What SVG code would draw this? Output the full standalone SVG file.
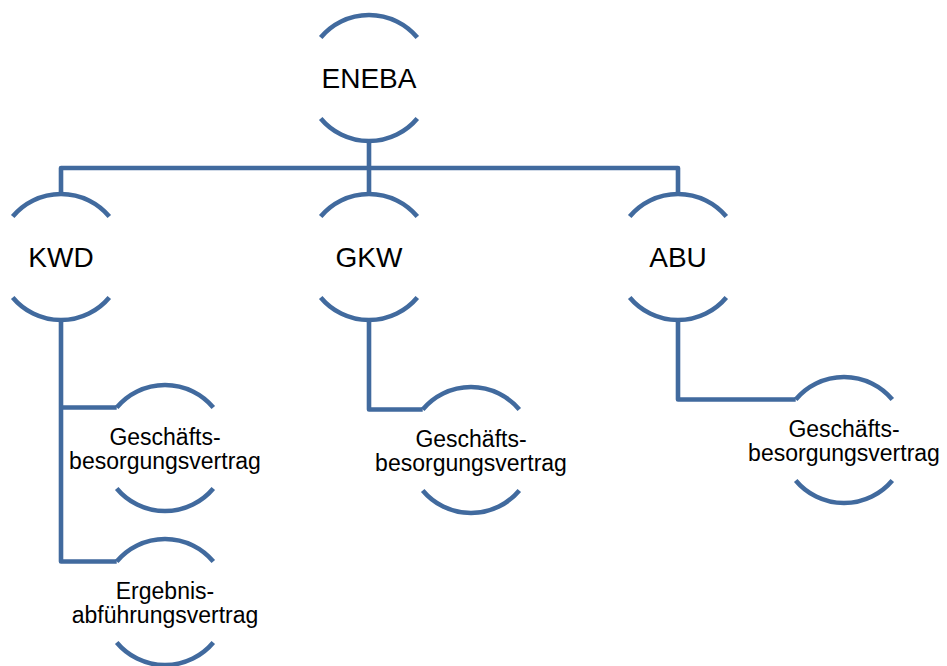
<svg xmlns="http://www.w3.org/2000/svg" xmlns:xlink="http://www.w3.org/1999/xlink" width="947" height="666" viewBox="0 0 947 666">
<style>
.arc{fill:none;stroke:#416A9E;stroke-width:4.6;stroke-linecap:butt}
.con{fill:none;stroke:#416A9E;stroke-width:4.6;stroke-linejoin:round}
.t1{font-family:"Liberation Sans",Arial,sans-serif;font-size:28px;fill:#000;text-anchor:middle}
.t2{font-family:"Liberation Sans",Arial,sans-serif;font-size:23px;fill:#000;text-anchor:middle}
</style>
<defs>
<path id="arcs" class="arc" d="M-48.3,-40.5 A63,63 0 0 1 48.3,-40.5 M-48.3,40.5 A63,63 0 0 0 48.3,40.5"/>
</defs>
<rect width="947" height="666" fill="#fff"/>
<g id="connectors">
<path class="con" d="M369,141 V194 M61,194 V168 H678 V194"/>
<path class="con" d="M61,320 V561.5 H116.7 M61,407.5 H116.7"/>
<path class="con" d="M369,320 V409.5 H422.7"/>
<path class="con" d="M678,320 V399.5 H795.7"/>
</g>
<g id="eneba"><use xlink:href="#arcs" x="369" y="78"/><text class="t1" x="369" y="88">ENEBA</text></g>
<g id="kwd"><use xlink:href="#arcs" x="61" y="257"/><text class="t1" x="61" y="267">KWD</text></g>
<g id="gkw"><use xlink:href="#arcs" x="369" y="257"/><text class="t1" x="369" y="267">GKW</text></g>
<g id="abu"><use xlink:href="#arcs" x="678" y="257"/><text class="t1" x="678" y="267">ABU</text></g>
<g id="kwd-gbv"><use xlink:href="#arcs" x="165" y="448"/><text class="t2" x="165" y="444.5">Geschäfts-<tspan x="165" dy="24">besorgungsvertrag</tspan></text></g>
<g id="kwd-eav"><use xlink:href="#arcs" x="165" y="602"/><text class="t2" x="165" y="598.5">Ergebnis-<tspan x="165" dy="24">abführungsvertrag</tspan></text></g>
<g id="gkw-gbv"><use xlink:href="#arcs" x="471" y="450"/><text class="t2" x="471" y="446.5">Geschäfts-<tspan x="471" dy="24">besorgungsvertrag</tspan></text></g>
<g id="abu-gbv"><use xlink:href="#arcs" x="844" y="440"/><text class="t2" x="844" y="436.5">Geschäfts-<tspan x="844" dy="24">besorgungsvertrag</tspan></text></g>
</svg>
